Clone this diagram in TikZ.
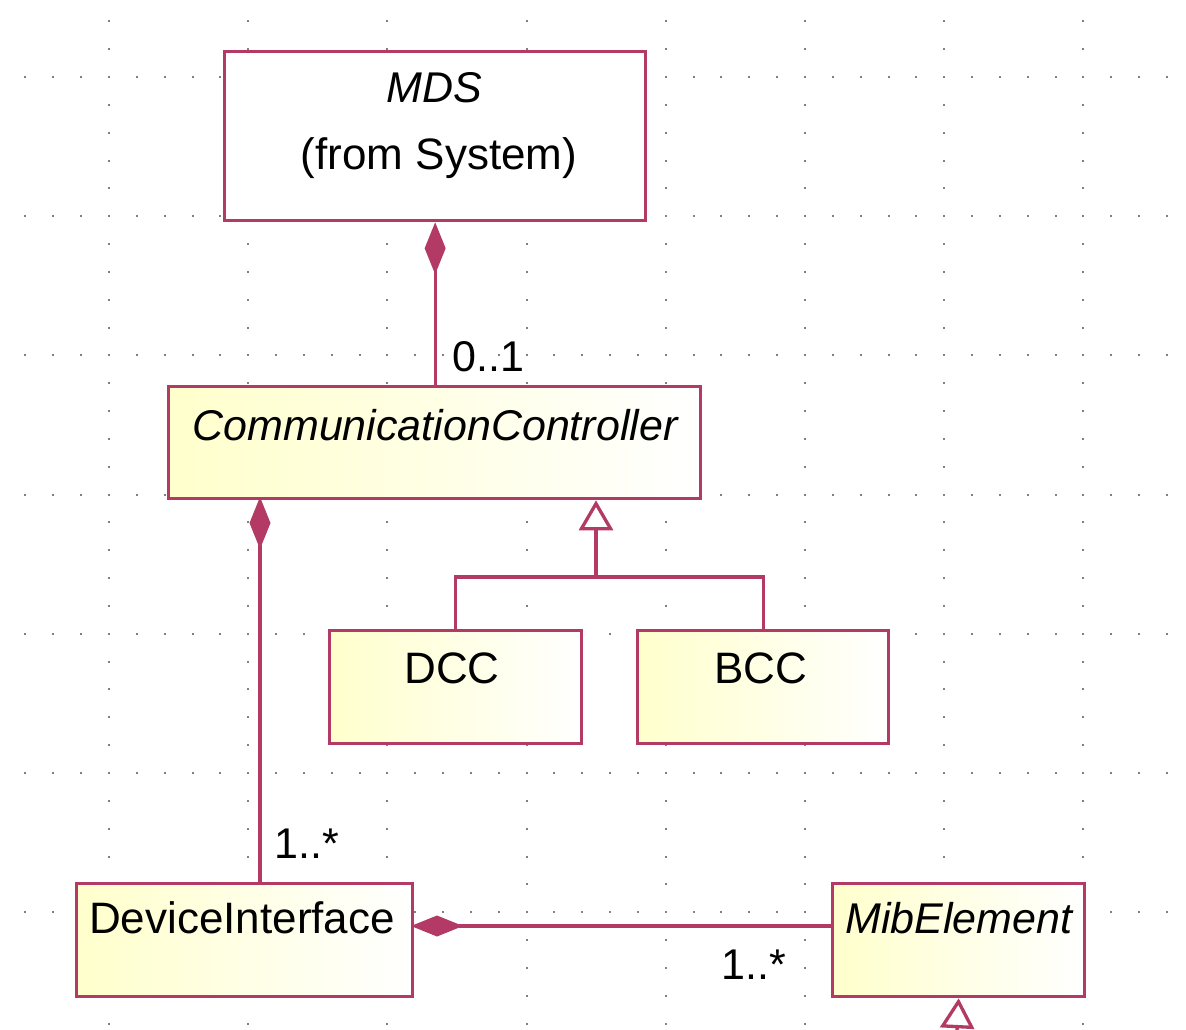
\documentclass[tikz,border=0pt]{standalone}
\usepackage{fontspec}
\setmainfont{Liberation Sans}
\usetikzlibrary{arrows.meta}
\definecolor{umlred}{RGB}{178,58,100}
\definecolor{clsyellow}{RGB}{255,255,204}
\definecolor{dotgray}{RGB}{128,128,128}
\tikzset{
  cls/.style={draw=umlred, line width=3.3pt, left color=clsyellow, right color=white, inner sep=0pt, anchor=north west},
  pkg/.style={draw=umlred, line width=3.3pt, fill=white, inner sep=0pt, anchor=north west},
  txt/.style={font=\fontsize{44}{50}\selectfont, anchor=base, inner sep=0pt},
  itxt/.style={txt, font=\fontsize{43}{50}\selectfont\itshape},
  mult/.style={font=\fontsize{43}{48}\selectfont, anchor=base west, inner sep=0pt},
  conn/.style={draw=umlred, line width=3.3pt},
  compo/.style={conn, {Diamond[length=52pt,width=21pt,fill=umlred]}-},
  genz/.style={conn, -{Triangle[open,length=30pt,width=34pt,fill=white]}},
  dotm/.style={fill=dotgray, draw=none}
}
\begin{document}
\begin{tikzpicture}[x=1pt,y=-1pt]
\useasboundingbox (0,0) rectangle (1186,1030);
\fill[white] (0,0) rectangle (1186,1030);
% grid dots
\foreach \r in {0,...,6} {
  \foreach \k in {-3,...,39} {
    \fill[dotm] ({109+27.84*\k-1},{77+139.2*\r-1}) rectangle ++(2,2);
  }
}
\foreach \c in {0,...,7} {
  \foreach \k in {-2,...,34} {
    \fill[dotm] ({109+139.2*\c-1},{77+27.84*\k-1}) rectangle ++(2,2);
  }
}
% classes
\node[pkg, minimum width=421pt, minimum height=169pt] (mds) at (223,50) {};
\node[cls, minimum width=532pt, minimum height=112pt] (cc) at (167,385) {};
\node[cls, minimum width=252pt, minimum height=113pt] (dcc) at (328,629) {};
\node[cls, minimum width=251pt, minimum height=113pt] (bcc) at (636,629) {};
\node[cls, minimum width=336pt, minimum height=113pt] (di) at (75,882) {};
\node[cls, minimum width=252pt, minimum height=113pt] (mib) at (831,882) {};
% texts
\node[itxt] (mdsname) at (434,103) {MDS};
\node[txt] (mdsfrom) at (439,169) {(from System)};
\node[itxt] (ccname) at (435,440) {CommunicationController};
\node[txt] (dccname) at (452,683) {DCC};
\node[txt] (bccname) at (761,683) {BCC};
\node[txt] (diname) at (242,933) {DeviceInterface};
\node[itxt] (mibname) at (959,933) {MibElement};
% connectors
\coordinate (ccdi) at (260,497);
\coordinate (dimib) at (411,926);
\coordinate (gen) at (596,577);
\coordinate (mibdown) at (957,1031);
\draw[compo] (mds.south) -- (mds.south |- cc.north);
\draw[compo] (ccdi) -- (ccdi |- di.north);
\draw[compo] (dimib) -- (dimib -| mib.west);
\draw[genz] (gen) -- (gen |- cc.south);
\draw[conn] (dcc.north) |- (gen) -| (bcc.north);
\draw[genz] (mibdown) -- (mib.south);
% multiplicities
\node[mult] (m1) at (452,371) {0..1};
\node[mult] (m2) at (274,858) {1..*};
\node[mult] (m3) at (721,979) {1..*};
\end{tikzpicture}
\end{document}
